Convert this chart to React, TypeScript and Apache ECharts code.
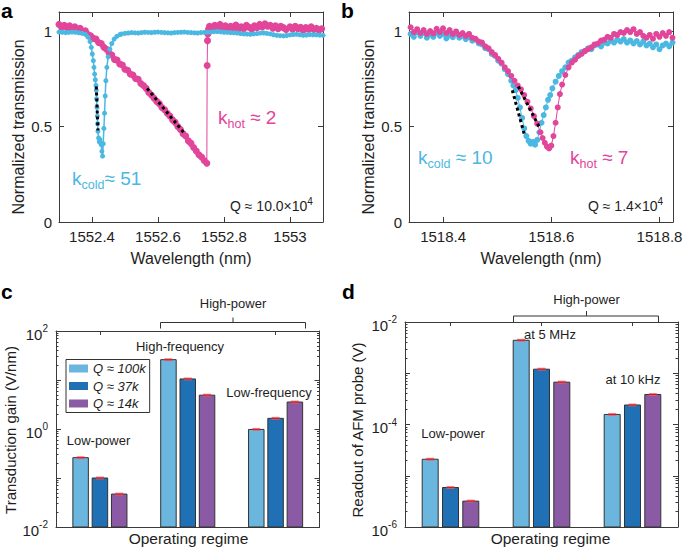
import React, { useEffect, useRef } from 'react';
import * as echarts from 'echarts';

const FONT = '"Liberation Sans", Arial, Helvetica, sans-serif';
const BLUE = '#4bb8e2';
const PINK = '#e1469a';
const AXIS = '#3a3a3a';
const INK = '#1e1e1e';
const BAR_COLORS = ['#6ab6de', '#1f70b5', '#8b5aa5'];

// ---------- panel a ----------
const A_X_TICKS = [1552.4, 1552.6, 1552.8, 1553];
const A_X_LABELS = ['1552.4', '1552.6', '1552.8', '1553'];
const T_TICKS = [0, 0.5, 1];
const T_LABELS = ['0', '0.5', '1'];

const A_HOT: number[][] = [
  [1552.300, 1.035], [1552.308, 1.020], [1552.316, 1.030], [1552.324, 1.018], [1552.332, 1.028],
  [1552.340, 1.012], [1552.348, 1.022], [1552.356, 1.008], [1552.364, 1.015], [1552.372, 0.998],
  [1552.380, 1.002], [1552.388, 0.982], [1552.396, 0.975], [1552.404, 0.962], [1552.412, 0.958],
  [1552.420, 0.940], [1552.428, 0.935], [1552.436, 0.915], [1552.444, 0.905], [1552.452, 0.885],
  [1552.460, 0.875], [1552.468, 0.852], [1552.476, 0.848], [1552.484, 0.828], [1552.492, 0.822],
  [1552.500, 0.800], [1552.508, 0.795], [1552.516, 0.775], [1552.524, 0.770], [1552.532, 0.752],
  [1552.540, 0.748], [1552.548, 0.725], [1552.556, 0.715], [1552.564, 0.700], [1552.572, 0.678],
  [1552.580, 0.665], [1552.588, 0.648], [1552.596, 0.632], [1552.604, 0.620], [1552.612, 0.600],
  [1552.620, 0.588], [1552.628, 0.570], [1552.636, 0.555], [1552.644, 0.535], [1552.652, 0.522],
  [1552.660, 0.500], [1552.668, 0.485], [1552.676, 0.462], [1552.684, 0.450], [1552.692, 0.425],
  [1552.700, 0.412], [1552.708, 0.390], [1552.716, 0.372], [1552.724, 0.352], [1552.732, 0.340],
  [1552.740, 0.322], [1552.748, 0.308], [1552.749, 0.820], [1552.750, 0.950], [1552.751, 0.985],
  [1552.753, 1.010], [1552.756, 1.025], [1552.764, 1.012], [1552.772, 1.030], [1552.780, 1.018],
  [1552.788, 1.035], [1552.796, 1.020], [1552.804, 1.028], [1552.812, 1.010], [1552.820, 1.025],
  [1552.828, 1.015], [1552.836, 1.032], [1552.844, 1.008], [1552.852, 1.022], [1552.860, 1.012],
  [1552.868, 1.030], [1552.876, 1.020], [1552.884, 1.010], [1552.892, 1.028], [1552.900, 1.018],
  [1552.908, 1.035], [1552.916, 1.022], [1552.924, 1.038], [1552.932, 1.025], [1552.940, 1.030],
  [1552.948, 1.015], [1552.956, 1.028], [1552.964, 1.012], [1552.972, 1.025], [1552.980, 1.018],
  [1552.988, 1.008], [1553.000, 1.022], [1553.008, 1.010], [1553.016, 1.025], [1553.024, 1.012],
  [1553.032, 1.020], [1553.040, 1.005], [1553.048, 1.018], [1553.056, 1.010], [1553.064, 1.022],
  [1553.072, 1.008], [1553.080, 1.015], [1553.088, 1.005], [1553.096, 1.012],
];

const A_COLD: number[][] = [
  [1552.300, 0.995], [1552.310, 0.994], [1552.320, 0.992], [1552.330, 0.993], [1552.340, 0.995],
  [1552.350, 0.994], [1552.360, 0.991], [1552.370, 0.988], [1552.380, 0.983], [1552.388, 0.968],
  [1552.394, 0.945], [1552.398, 0.915], [1552.401, 0.880], [1552.404, 0.845], [1552.406, 0.810],
  [1552.408, 0.775], [1552.410, 0.745], [1552.412, 0.715], [1552.413, 0.690], [1552.414, 0.645],
  [1552.415, 0.600], [1552.416, 0.555], [1552.417, 0.515], [1552.418, 0.475], [1552.420, 0.440],
  [1552.422, 0.420], [1552.424, 0.432], [1552.426, 0.415], [1552.428, 0.405], [1552.430, 0.370],
  [1552.432, 0.345], [1552.434, 0.410], [1552.436, 0.490], [1552.438, 0.570], [1552.440, 0.660],
  [1552.442, 0.740], [1552.445, 0.810], [1552.449, 0.865], [1552.454, 0.905], [1552.460, 0.935],
  [1552.467, 0.958], [1552.475, 0.972], [1552.485, 0.982], [1552.490, 0.985], [1552.500, 0.988],
  [1552.510, 0.990], [1552.520, 0.992], [1552.530, 0.991], [1552.540, 0.990], [1552.550, 0.992],
  [1552.560, 0.994], [1552.570, 0.993], [1552.580, 0.992], [1552.590, 0.994], [1552.600, 0.995],
  [1552.610, 0.993], [1552.620, 0.992], [1552.630, 0.991], [1552.640, 0.990], [1552.650, 0.992],
  [1552.660, 0.993], [1552.670, 0.994], [1552.680, 0.995], [1552.690, 0.993], [1552.700, 0.992],
  [1552.710, 0.991], [1552.720, 0.990], [1552.730, 0.992], [1552.740, 0.993], [1552.750, 0.994],
  [1552.760, 0.995], [1552.770, 0.997], [1552.780, 0.998], [1552.790, 0.996], [1552.800, 0.994],
  [1552.810, 0.993], [1552.820, 0.992], [1552.830, 0.991], [1552.840, 0.990], [1552.850, 0.987],
  [1552.860, 0.985], [1552.870, 0.984], [1552.880, 0.983], [1552.890, 0.985], [1552.900, 0.987],
  [1552.910, 0.989], [1552.920, 0.990], [1552.930, 0.988], [1552.940, 0.985], [1552.950, 0.981],
  [1552.960, 0.978], [1552.970, 0.976], [1552.980, 0.975], [1552.990, 0.977], [1553.000, 0.980],
  [1553.010, 0.982], [1553.020, 0.983], [1553.030, 0.981], [1553.040, 0.978], [1553.050, 0.979],
  [1553.060, 0.982], [1553.070, 0.981], [1553.080, 0.980], [1553.090, 0.979], [1553.100, 0.978],
];

const A_FIT_COLD: number[][] = [[1552.413, 0.71], [1552.418, 0.48]];
const A_FIT_HOT: number[][] = [[1552.567, 0.70], [1552.682, 0.46]];

// ---------- panel b ----------
const B_X_TICKS = [1518.4, 1518.6, 1518.8];
const B_X_LABELS = ['1518.4', '1518.6', '1518.8'];

const B_COLD: number[][] = [
  [1518.340, 0.985], [1518.346, 0.970], [1518.352, 0.995], [1518.358, 0.975], [1518.364, 0.990],
  [1518.370, 0.965], [1518.376, 0.982], [1518.382, 0.970], [1518.388, 0.990], [1518.394, 0.975],
  [1518.400, 0.985], [1518.406, 0.962], [1518.412, 0.978], [1518.418, 0.968], [1518.424, 0.985],
  [1518.430, 0.965], [1518.436, 0.975], [1518.442, 0.958], [1518.448, 0.968], [1518.454, 0.950],
  [1518.460, 0.955], [1518.466, 0.935], [1518.472, 0.930], [1518.478, 0.910], [1518.484, 0.905],
  [1518.490, 0.880], [1518.496, 0.870], [1518.502, 0.845], [1518.508, 0.830], [1518.514, 0.800],
  [1518.520, 0.775], [1518.526, 0.740], [1518.530, 0.715], [1518.534, 0.690], [1518.538, 0.650],
  [1518.542, 0.600], [1518.546, 0.545], [1518.550, 0.490], [1518.554, 0.450], [1518.558, 0.425],
  [1518.562, 0.410], [1518.566, 0.420], [1518.570, 0.405], [1518.574, 0.430], [1518.578, 0.470],
  [1518.582, 0.520], [1518.586, 0.560], [1518.590, 0.600], [1518.594, 0.640], [1518.598, 0.665],
  [1518.602, 0.700], [1518.608, 0.735], [1518.614, 0.765], [1518.620, 0.790], [1518.626, 0.810],
  [1518.632, 0.835], [1518.638, 0.845], [1518.644, 0.862], [1518.650, 0.875], [1518.656, 0.890],
  [1518.662, 0.895], [1518.668, 0.910], [1518.674, 0.905], [1518.680, 0.925], [1518.686, 0.930],
  [1518.692, 0.920], [1518.698, 0.940], [1518.704, 0.935], [1518.710, 0.950], [1518.716, 0.940],
  [1518.722, 0.955], [1518.728, 0.945], [1518.734, 0.958], [1518.740, 0.940], [1518.746, 0.950],
  [1518.752, 0.935], [1518.758, 0.948], [1518.764, 0.930], [1518.770, 0.945], [1518.776, 0.925],
  [1518.782, 0.935], [1518.788, 0.915], [1518.794, 0.930], [1518.800, 0.905], [1518.806, 0.925],
  [1518.812, 0.935], [1518.818, 0.920], [1518.824, 0.940],
];

const B_HOT: number[][] = [
  [1518.340, 1.020], [1518.346, 0.995], [1518.352, 1.010], [1518.358, 0.990], [1518.364, 1.005],
  [1518.370, 0.985], [1518.376, 1.000], [1518.382, 0.988], [1518.388, 1.012], [1518.394, 0.995],
  [1518.400, 1.015], [1518.406, 0.990], [1518.412, 1.005], [1518.418, 0.985], [1518.424, 0.998],
  [1518.430, 0.980], [1518.436, 0.990], [1518.442, 0.975], [1518.448, 0.985], [1518.454, 0.965],
  [1518.460, 0.960], [1518.466, 0.945], [1518.472, 0.940], [1518.478, 0.920], [1518.484, 0.910],
  [1518.490, 0.890], [1518.496, 0.875], [1518.502, 0.855], [1518.508, 0.835], [1518.514, 0.810],
  [1518.520, 0.790], [1518.526, 0.765], [1518.532, 0.740], [1518.538, 0.715], [1518.544, 0.695],
  [1518.550, 0.665], [1518.556, 0.630], [1518.562, 0.595], [1518.568, 0.555], [1518.574, 0.515],
  [1518.580, 0.470], [1518.584, 0.440], [1518.588, 0.415], [1518.592, 0.395], [1518.596, 0.385],
  [1518.600, 0.400], [1518.604, 0.450], [1518.608, 0.520], [1518.612, 0.600], [1518.616, 0.670],
  [1518.620, 0.720], [1518.626, 0.770], [1518.632, 0.810], [1518.638, 0.835], [1518.644, 0.850],
  [1518.650, 0.870], [1518.656, 0.880], [1518.662, 0.895], [1518.668, 0.905], [1518.674, 0.915],
  [1518.680, 0.930], [1518.686, 0.935], [1518.692, 0.950], [1518.698, 0.955], [1518.704, 0.970],
  [1518.710, 0.965], [1518.716, 0.985], [1518.722, 0.980], [1518.728, 0.995], [1518.734, 0.990],
  [1518.740, 1.005], [1518.746, 0.995], [1518.752, 1.010], [1518.758, 0.985], [1518.764, 0.995],
  [1518.770, 0.975], [1518.776, 0.965], [1518.782, 0.980], [1518.788, 0.960], [1518.794, 0.985],
  [1518.800, 0.970], [1518.806, 0.990], [1518.812, 0.975], [1518.818, 0.995], [1518.824, 0.965],
];

const B_FIT_COLD: number[][] = [[1518.528, 0.69], [1518.550, 0.46]];
const B_FIT_HOT: number[][] = [[1518.539, 0.71], [1518.579, 0.49]];

// ---------- panels c, d ----------
const Q_NAMES = ['Q ≈ 100k', 'Q ≈ 37k', 'Q ≈ 14k'];
const C_REGIMES = ['Low-power', 'High-frequency', 'Low-frequency'];
const D_REGIMES = ['Low-power', 'at 5 MHz', 'at 10 kHz'];

const C_Q100 = [0.26, 26, 0.98];
const C_Q37 = [0.10, 10.5, 1.65];
const C_Q14 = [0.047, 4.9, 3.55];

const D_Q100 = [2.1e-5, 4.4e-3, 1.57e-4];
const D_Q37 = [5.9e-6, 1.2e-3, 2.4e-4];
const D_Q14 = [3.2e-6, 6.7e-4, 3.85e-4];

const C_DECADES = [0.01, 0.1, 1, 10, 100];
const C_LABELS = [0.01, 1, 100];
const D_DECADES = [1e-6, 1e-5, 1e-4, 1e-3, 1e-2];
const D_LABELS = [1e-6, 1e-4, 1e-2];
const MINOR_MULT = [2, 3, 4, 5, 6, 7, 8, 9];

const minorOf = (dec: number[]) =>
  dec.slice(0, -1).flatMap((d) => MINOR_MULT.map((m) => m * d));

const tickLabelStyle = { fontSize: 15, color: INK, fontFamily: FONT };

const pick = (ticks: number[], labels: string[]) => (v: number) => {
  const i = ticks.findIndex((t) => Math.abs(t - v) < 1e-6);
  return i >= 0 ? labels[i] : '';
};

const valX = (gridIndex: number, position: string, min: number, max: number, ticks: number[], labels: string[] | null) => ({
  type: 'value', gridIndex, position, min, max,
  axisLine: { show: true, onZero: false, lineStyle: { color: AXIS, width: 1 } },
  axisTick: { show: true, inside: true, length: 5, customValues: ticks, lineStyle: { color: AXIS } },
  axisLabel: labels
    ? { show: true, customValues: ticks, formatter: pick(ticks, labels), margin: 7, ...tickLabelStyle }
    : { show: false },
  splitLine: { show: false },
});

const valY = (gridIndex: number, position: string, ticks: number[], labels: string[] | null) => ({
  type: 'value', gridIndex, position, min: 0, max: 1.1,
  axisLine: { show: true, onZero: false, lineStyle: { color: AXIS, width: 1 } },
  axisTick: { show: true, inside: true, length: 5, customValues: ticks, lineStyle: { color: AXIS } },
  axisLabel: labels
    ? { show: true, customValues: ticks, formatter: pick(ticks, labels), margin: 7, ...tickLabelStyle }
    : { show: false },
  splitLine: { show: false },
});

const supRich = {
  b: { fontSize: 15, lineHeight: 15, padding: [3, 0, 0, 0], verticalAlign: 'top', fontFamily: FONT, color: INK },
  sup: { fontSize: 10, lineHeight: 10, verticalAlign: 'top', fontFamily: FONT, color: INK },
};

const logY = (gridIndex: number, position: string, min: number, max: number, ticks: number[], len: number, line: boolean, labels: number[] | null) => ({
  type: 'log', logBase: 10, gridIndex, position, min, max,
  axisLine: { show: line, onZero: false, lineStyle: { color: AXIS, width: 1 } },
  axisTick: { show: true, inside: true, length: len, customValues: ticks, lineStyle: { color: AXIS } },
  axisLabel: labels
    ? {
        show: true, customValues: labels, margin: 8,
        formatter: (v: number) => `{b|10}{sup|${Math.round(Math.log10(v))}}`,
        rich: supRich,
      }
    : { show: false },
  splitLine: { show: false },
  minorTick: { show: false },
});

const catX = (gridIndex: number, position: string, data: string[]) => ({
  type: 'category', gridIndex, position, data,
  axisLine: { show: true, onZero: false, lineStyle: { color: AXIS, width: 1 } },
  axisTick: { show: true, inside: true, alignWithLabel: true, length: 4, lineStyle: { color: AXIS } },
  axisLabel: { show: false },
  splitLine: { show: false },
});

const barRender = (offset: number, width: number, base: number) => (params: any, api: any) => {
  const cat = api.value(0);
  const val = api.value(1);
  const top = api.coord([cat, val]);
  const bottom = api.coord([cat, base]);
  const cx = top[0] + offset;
  return {
    type: 'group',
    children: [
      {
        type: 'rect',
        shape: { x: cx - width / 2, y: top[1], width, height: bottom[1] - top[1] },
        style: { fill: api.visual('color'), stroke: '#333', lineWidth: 1 },
      },
      {
        type: 'rect',
        shape: { x: cx - 4, y: top[1] - 1.5, width: 8, height: 3 },
        style: { fill: 'rgba(240,90,95,0.75)' },
      },
      {
        type: 'line',
        shape: { x1: cx - 4, y1: top[1], x2: cx + 4, y2: top[1] },
        style: { stroke: '#c81e2a', lineWidth: 1 },
      },
    ],
  };
};

const barSeries = (name: string, values: number[], color: string, xi: number, yi: number, offset: number, width: number, base: number) => ({
  type: 'custom', name, xAxisIndex: xi, yAxisIndex: yi,
  data: values.map((v, i) => [i, v]),
  encode: { x: 0, y: 1 },
  itemStyle: { color },
  renderItem: barRender(offset, width, base),
  silent: true,
});

const lineSeries = (data: number[][], color: string, xi: number, yi: number, size: number, lw: number) => ({
  type: 'line', data, xAxisIndex: xi, yAxisIndex: yi,
  symbol: 'circle', symbolSize: size, showSymbol: true, showAllSymbol: true,
  itemStyle: { color, borderWidth: 0 },
  lineStyle: { color, width: lw },
  silent: true,
});

const fitSeries = (data: number[][], xi: number, yi: number) => ({
  type: 'line', data, xAxisIndex: xi, yAxisIndex: yi, symbol: 'none',
  lineStyle: { color: '#000', width: 3, type: [3, 3] },
  silent: true, z: 5,
});

const text = (x: number, y: number, t: string, o: any = {}) => ({
  type: 'text', x, y, silent: true, rotation: o.rotation || 0,
  style: {
    text: t, fill: o.fill || INK, fontSize: o.fontSize || 13, fontFamily: FONT,
    fontWeight: o.fontWeight || 'normal', align: o.align || 'center', verticalAlign: 'middle',
    rich: o.rich,
  },
});

const kRich = (color: string) => ({
  k: { fontSize: 19, lineHeight: 19, verticalAlign: 'top', fontFamily: FONT, fill: color },
  s: { fontSize: 12.5, lineHeight: 12.5, padding: [10, 0, 0, 0], verticalAlign: 'top', fontFamily: FONT, fill: color },
});

const qRich = {
  m: { fontSize: 14, lineHeight: 14, padding: [3, 0, 0, 0], verticalAlign: 'top', fontFamily: FONT, fill: INK },
  s: { fontSize: 10, lineHeight: 10, verticalAlign: 'top', fontFamily: FONT, fill: INK },
};

export default function App() {
  const ref = useRef<HTMLDivElement>(null);
  useEffect(() => {
    if (!ref.current) return;
    const chart = echarts.init(ref.current, null, { renderer: 'svg' });
    const option: any = {
      animation: false,
      backgroundColor: '#fff',
      textStyle: { fontFamily: FONT },
      grid: [
        { left: 59, top: 12, width: 264, height: 210, outerBoundsMode: 'none' },
        { left: 409, top: 12, width: 264, height: 210, outerBoundsMode: 'none' },
        { left: 56, top: 331, width: 263.5, height: 196, outerBoundsMode: 'none' },
        { left: 405, top: 322, width: 273, height: 205, outerBoundsMode: 'none' },
      ],
      xAxis: [
        valX(0, 'bottom', 1552.3, 1553.1, A_X_TICKS, A_X_LABELS),
        valX(0, 'top', 1552.3, 1553.1, A_X_TICKS, null),
        valX(1, 'bottom', 1518.337, 1518.825, B_X_TICKS, B_X_LABELS),
        valX(1, 'top', 1518.337, 1518.825, B_X_TICKS, null),
        catX(2, 'bottom', C_REGIMES),
        catX(2, 'top', C_REGIMES),
        catX(3, 'bottom', D_REGIMES),
        catX(3, 'top', D_REGIMES),
      ],
      yAxis: [
        valY(0, 'left', T_TICKS, T_LABELS),
        valY(0, 'right', T_TICKS, null),
        valY(1, 'left', T_TICKS, T_LABELS),
        valY(1, 'right', T_TICKS, null),
        logY(2, 'left', 0.01, 100, C_DECADES, 5, true, C_LABELS),
        logY(2, 'left', 0.01, 100, minorOf(C_DECADES), 2.5, false, null),
        logY(2, 'right', 0.01, 100, C_DECADES, 5, true, null),
        logY(2, 'right', 0.01, 100, minorOf(C_DECADES), 2.5, false, null),
        logY(3, 'left', 1e-6, 1e-2, D_DECADES, 5, true, D_LABELS),
        logY(3, 'left', 1e-6, 1e-2, minorOf(D_DECADES), 2.5, false, null),
        logY(3, 'right', 1e-6, 1e-2, D_DECADES, 5, true, null),
        logY(3, 'right', 1e-6, 1e-2, minorOf(D_DECADES), 2.5, false, null),
      ],
      legend: {
        show: true, data: Q_NAMES, orient: 'vertical', left: 66, top: 359.5,
        icon: 'rect', itemWidth: 19, itemHeight: 8, itemGap: 3.5, padding: [2, 4, 2, 3],
        borderColor: '#333', borderWidth: 1, backgroundColor: '#fff', selectedMode: false,
        textStyle: { fontStyle: 'italic', fontSize: 13, fontFamily: FONT, color: INK, lineHeight: 14 },
        itemStyle: { borderWidth: 0 },
      },
      series: [
        lineSeries(A_HOT, PINK, 0, 0, 7, 1),
        lineSeries(A_COLD, BLUE, 0, 0, 5, 1.5),
        fitSeries(A_FIT_COLD, 0, 0),
        fitSeries(A_FIT_HOT, 0, 0),
        lineSeries(B_COLD, BLUE, 2, 2, 6, 1),
        lineSeries(B_HOT, PINK, 2, 2, 6, 1),
        fitSeries(B_FIT_COLD, 2, 2),
        fitSeries(B_FIT_HOT, 2, 2),
        barSeries(Q_NAMES[0], C_Q100, BAR_COLORS[0], 4, 4, -19.3, 15.5, 0.01),
        barSeries(Q_NAMES[1], C_Q37, BAR_COLORS[1], 4, 4, 0, 15.5, 0.01),
        barSeries(Q_NAMES[2], C_Q14, BAR_COLORS[2], 4, 4, 19.3, 15.5, 0.01),
        barSeries(Q_NAMES[0], D_Q100, BAR_COLORS[0], 6, 8, -20.3, 16, 1e-6),
        barSeries(Q_NAMES[1], D_Q37, BAR_COLORS[1], 6, 8, 0, 16, 1e-6),
        barSeries(Q_NAMES[2], D_Q14, BAR_COLORS[2], 6, 8, 20.3, 16, 1e-6),
      ],
      graphic: [
        // panel letters
        text(1, 10, 'a', { fontSize: 21, fontWeight: 'bold', align: 'left', fill: '#000' }),
        text(341, 10, 'b', { fontSize: 21, fontWeight: 'bold', align: 'left', fill: '#000' }),
        text(1, 291, 'c', { fontSize: 21, fontWeight: 'bold', align: 'left', fill: '#000' }),
        text(342, 291, 'd', { fontSize: 21, fontWeight: 'bold', align: 'left', fill: '#000' }),
        // axis titles
        text(18, 127, 'Normalized transmission', { fontSize: 16, rotation: Math.PI / 2 }),
        text(368, 127, 'Normalized transmission', { fontSize: 16, rotation: Math.PI / 2 }),
        text(191, 258, 'Wavelength (nm)', { fontSize: 16 }),
        text(541, 258, 'Wavelength (nm)', { fontSize: 16 }),
        text(10, 430, 'Transduction gain (V/nm)', { fontSize: 15, rotation: Math.PI / 2 }),
        text(357, 430, 'Readout of AFM probe (V)', { fontSize: 15, rotation: Math.PI / 2 }),
        text(188.5, 538, 'Operating regime', { fontSize: 15.5 }),
        text(550.5, 538, 'Operating regime', { fontSize: 15.5 }),
        // annotations a, b
        text(72, 178, '{k|k}{s|cold}{k|≈ 51}', { align: 'left', fill: BLUE, rich: kRich(BLUE) }),
        text(218, 117, '{k|k}{s|hot}{k| ≈ 2}', { align: 'left', fill: PINK, rich: kRich(PINK) }),
        text(230, 203, '{m|Q ≈ 10.0×10}{s|4}', { align: 'left', rich: qRich }),
        text(418, 157, '{k|k}{s|cold}{k| ≈ 10}', { align: 'left', fill: BLUE, rich: kRich(BLUE) }),
        text(570, 157, '{k|k}{s|hot}{k| ≈ 7}', { align: 'left', fill: PINK, rich: kRich(PINK) }),
        text(588, 203, '{m|Q ≈ 1.4×10}{s|4}', { align: 'left', rich: qRich }),
        // annotations c
        text(98.5, 440, 'Low-power', { fontSize: 13 }),
        text(180, 346, 'High-frequency', { fontSize: 13 }),
        text(269, 392, 'Low-frequency', { fontSize: 13 }),
        text(233, 303, 'High-power', { fontSize: 13 }),
        // annotations d
        text(453, 433, 'Low-power', { fontSize: 13 }),
        text(550, 334, 'at 5 MHz', { fontSize: 13 }),
        text(633, 379, 'at 10 kHz', { fontSize: 13 }),
        text(586.5, 299, 'High-power', { fontSize: 13 }),
        // brackets
        { type: 'polyline', silent: true, shape: { points: [[160.5, 328.5], [160.5, 322.5], [305.5, 322.5], [305.5, 328.5]] }, style: { stroke: '#333', lineWidth: 1, fill: null } },
        { type: 'line', silent: true, shape: { x1: 233, y1: 322.5, x2: 233, y2: 317.5 }, style: { stroke: '#333', lineWidth: 1 } },
        { type: 'polyline', silent: true, shape: { points: [[513.5, 322], [513.5, 316], [658.5, 316], [658.5, 322]] }, style: { stroke: '#333', lineWidth: 1, fill: null } },
        { type: 'line', silent: true, shape: { x1: 586.5, y1: 316, x2: 586.5, y2: 311 }, style: { stroke: '#333', lineWidth: 1 } },
      ],
    };
    chart.setOption(option);
    return () => chart.dispose();
  }, []);
  return <div ref={ref} style={{ position: 'fixed', left: 0, top: 0, width: 685, height: 549 }} />;
}
